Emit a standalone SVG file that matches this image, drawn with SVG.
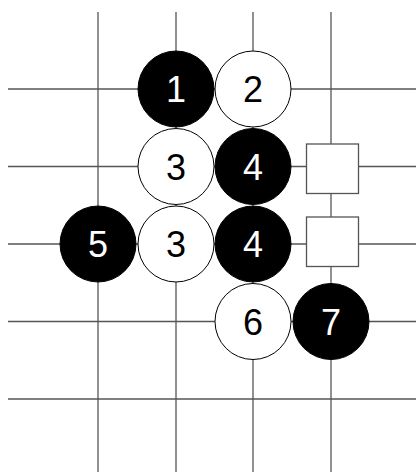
<svg xmlns="http://www.w3.org/2000/svg" width="416" height="472" viewBox="0 0 416 472">
<style>
.g{stroke:#555;stroke-width:1.3;fill:none}
.b{fill:#000;stroke:#000;stroke-width:1}
.w{fill:#fff;stroke:#000;stroke-width:1}
.sq{fill:#fff;stroke:#555;stroke-width:1.3}
.tb{font-family:"Liberation Sans",Arial,sans-serif;font-size:36px;text-anchor:middle;fill:#fff}
.tw{font-family:"Liberation Sans",Arial,sans-serif;font-size:36px;text-anchor:middle;fill:#000}
</style>
<rect width="416" height="472" fill="#fff"/>
<g id="connectors">
<line class="g" x1="98" y1="12" x2="98" y2="472"/>
<line class="g" x1="176" y1="12" x2="176" y2="472"/>
<line class="g" x1="253" y1="12" x2="253" y2="472"/>
<line class="g" x1="331" y1="12" x2="331" y2="472"/>
<line class="g" x1="8" y1="89" x2="416" y2="89"/>
<line class="g" x1="8" y1="166.5" x2="416" y2="166.5"/>
<line class="g" x1="8" y1="244" x2="416" y2="244"/>
<line class="g" x1="8" y1="321.5" x2="416" y2="321.5"/>
<line class="g" x1="8" y1="399" x2="416" y2="399"/>
</g>
<g id="s1"><circle class="b" cx="176" cy="89" r="38"/><text class="tb" x="176" y="102">1</text></g>
<g id="s2"><circle class="w" cx="253" cy="89" r="38"/><text class="tw" x="253" y="102">2</text></g>
<g id="s3a"><circle class="w" cx="176" cy="166.5" r="38"/><text class="tw" x="176" y="179.5">3</text></g>
<g id="s4a"><circle class="b" cx="253" cy="166.5" r="38"/><text class="tb" x="253" y="179.5">4</text></g>
<g id="s5"><circle class="b" cx="98" cy="244" r="38"/><text class="tb" x="98" y="257">5</text></g>
<g id="s3b"><circle class="w" cx="176" cy="244" r="38"/><text class="tw" x="176" y="257">3</text></g>
<g id="s4b"><circle class="b" cx="253" cy="244" r="38"/><text class="tb" x="253" y="257">4</text></g>
<g id="s6"><circle class="w" cx="253" cy="321.5" r="38"/><text class="tw" x="253" y="334.5">6</text></g>
<g id="s7"><circle class="b" cx="331" cy="321.5" r="38"/><text class="tb" x="331" y="334.5">7</text></g>
<g id="sqA"><rect class="sq" x="306.5" y="144" width="52" height="49.5"/></g>
<g id="sqB"><rect class="sq" x="306.5" y="217" width="52" height="49.5"/></g>
</svg>
